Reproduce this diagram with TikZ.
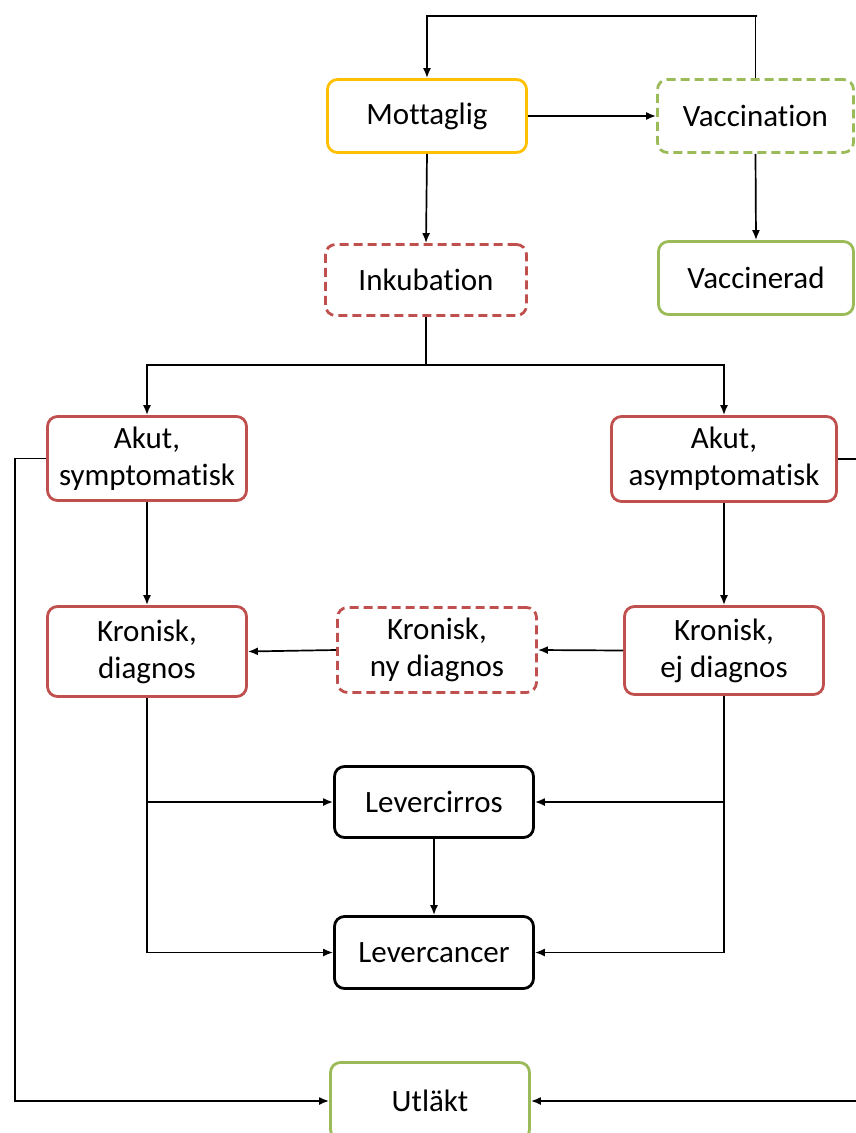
\documentclass[tikz,border=0pt]{standalone}
\usepackage{fontspec}
\setmainfont{Carlito}[Ligatures=NoCommon]
\usetikzlibrary{arrows.meta}
\definecolor{orng}{HTML}{FFC000}
\definecolor{grn}{HTML}{9BBB59}
\definecolor{rd}{HTML}{C0504D}
\tikzset{
  box/.style={draw, rectangle, rounded corners=10pt, line width=2.8pt, fill=white,
    align=center, inner sep=0pt, font=\fontsize{31}{37}\selectfont},
  dsh/.style={dash pattern=on 9pt off 5pt},
  arr/.style={line width=1.7pt, -{Latex[length=10pt,width=8pt]}},
  ln/.style={line width=1.7pt}
}
\begin{document}
\begin{tikzpicture}[x=1pt,y=-1pt]
\path[use as bounding box, fill=white] (0,0) rectangle (856,1133);
\clip (0,0) rectangle (856,1133);
% nodes
\node[box, draw=orng, minimum width=199pt, minimum height=73pt] (mot) at (427,116) {Mottaglig};
\node[box, draw=grn, dsh, minimum width=196pt, minimum height=73pt] (vac) at (755.5,116) {Vaccination};
\node[box, draw=rd, dsh, minimum width=201pt, minimum height=71pt] (ink) at (426,280) {Inkubation};
\node[box, draw=grn, minimum width=195pt, minimum height=73pt] (vcd) at (756,278) {Vaccinerad};
\node[box, draw=rd, minimum width=199pt, minimum height=84pt] (as) at (147,458.5) {Akut,\\symptomatisk};
\node[box, draw=rd, minimum width=225pt, minimum height=85pt] (aa) at (724,459) {Akut,\\asymptomatisk};
\node[box, draw=rd, minimum width=199pt, minimum height=90pt] (kd) at (147,651.5) {Kronisk,\\diagnos};
\node[box, draw=rd, dsh, minimum width=199pt, minimum height=85pt] (kny) at (437,650) {Kronisk,\\ny diagnos};
\node[box, draw=rd, minimum width=199pt, minimum height=88pt] (kej) at (724,650.5) {Kronisk,\\ej diagnos};
\node[box, draw=black, minimum width=199pt, minimum height=71pt] (lci) at (434,802) {Levercirros};
\node[box, draw=black, minimum width=199pt, minimum height=72pt] (lca) at (434,952.5) {Levercancer};
\node[box, draw=grn, minimum width=199pt, minimum height=77pt] (ut) at (430,1101) {Utläkt};
% coordinates
\coordinate (top) at (757,16);
\coordinate (split) at (426,365);
\coordinate (lb) at (15,1101);
\coordinate (rb) at (858,1101);
% connectors
\draw[arr] (vac.north) |- (top) -| (mot.north);
\draw[arr] (mot.east) -- (vac.west);
\draw[arr] (mot.south) -- (ink.north);
\draw[arr] (vac.south) -- (vcd.north);
\draw[ln, line width=2.2pt] (ink.south) -- (split);
\draw[arr] (split) -| (as.north);
\draw[arr] (split) -| (aa.north);
\draw[arr] (as.south) -- (kd.north);
\draw[arr] (aa.south) -- (kej.north);
\draw[arr] (kej.west) -- (kny.east);
\draw[arr] (kny.west) -- (kd.east);
\draw[arr] (as.west) -| (lb) -- (ut.west);
\draw[arr] (aa.east) -| (rb) -- (ut.east);
\draw[arr] (kd.south) |- (lca.west);
\draw[arr] (kd.south |- lci.west) -- (lci.west);
\draw[arr] (kej.south) |- (lca.east);
\draw[arr] (kej.south |- lci.east) -- (lci.east);
\draw[arr] (lci.south) -- (lca.north);
\end{tikzpicture}
\end{document}
